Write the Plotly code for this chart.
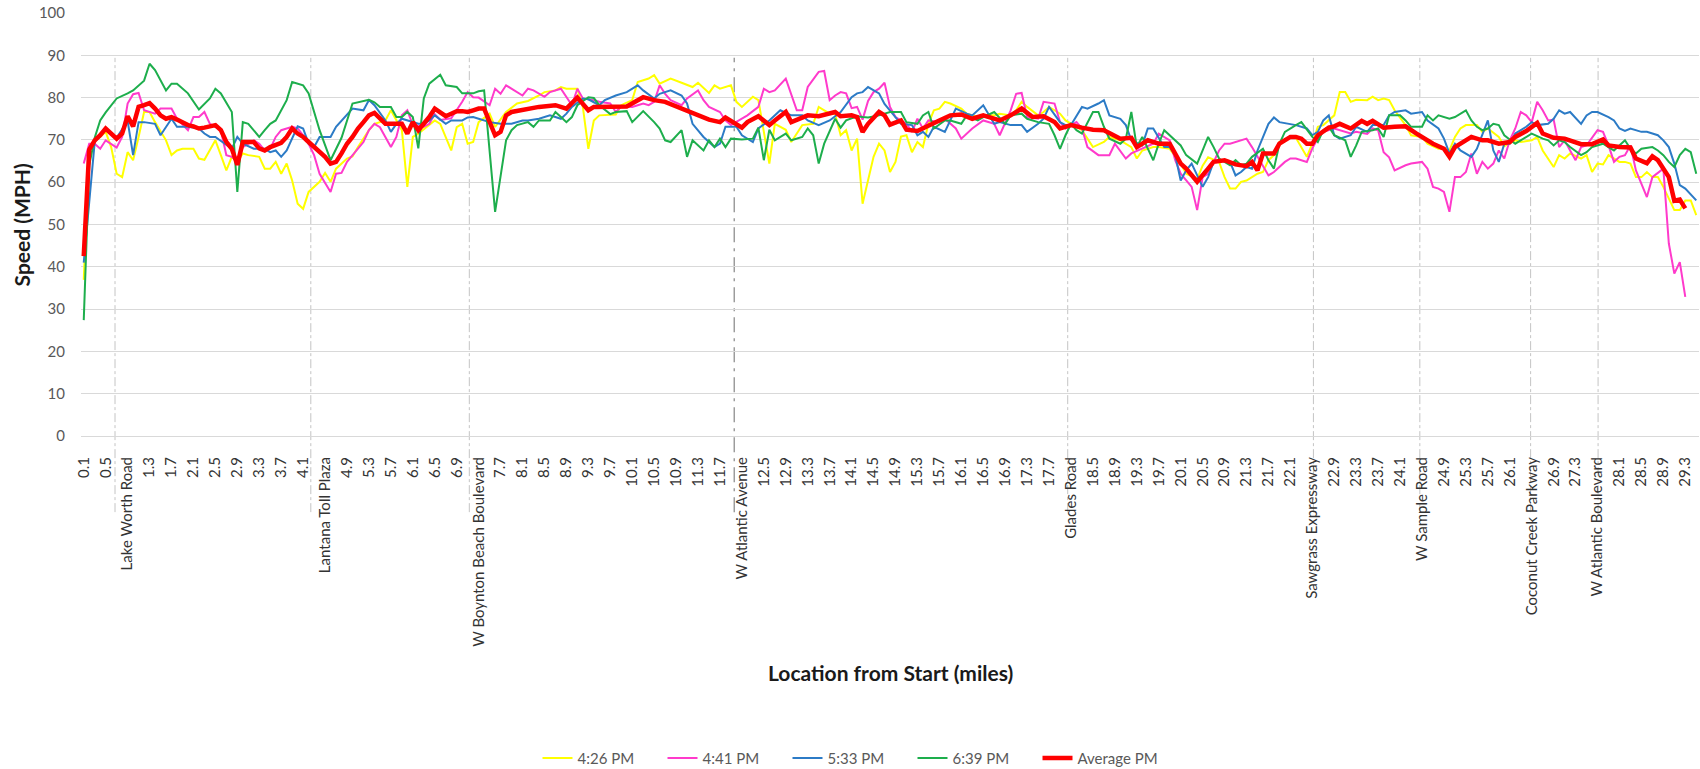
import plotly.graph_objects as go

FONT = "Lato"

# ---------------- data (mile, speed mph) ----------------
speed_426 = [
    (0.1, 36.9), (0.2, 68.3), (0.3, 70.0), (0.4, 70.7), (0.5, 71.9), (0.6, 68.3), (0.7, 62.0), (0.8, 61.2),
    (0.9, 67.1), (1.0, 65.2), (1.1, 70.7), (1.2, 76.6), (1.3, 76.6), (1.4, 74.2), (1.6, 69.9), (1.7, 66.4),
    (1.8, 67.5), (1.9, 67.9), (2.1, 67.9), (2.2, 65.6), (2.3, 65.3), (2.5, 69.9), (2.6, 66.4), (2.7, 62.8),
    (2.8, 66.0), (2.9, 64.8), (3.0, 66.8), (3.1, 66.4), (3.3, 66.0), (3.4, 63.2), (3.5, 63.2), (3.6, 64.8),
    (3.7, 62.0), (3.8, 64.4), (3.9, 60.4), (4.0, 54.9), (4.1, 53.7), (4.2, 57.7), (4.4, 60.1), (4.5, 62.2),
    (4.6, 60.1), (4.7, 63.2), (4.9, 65.6), (5.0, 66.1), (5.1, 68.3), (5.3, 72.3), (5.4, 73.8), (5.6, 74.6),
    (5.7, 77.0), (5.8, 74.6), (5.9, 72.3), (6.0, 58.9), (6.1, 70.7), (6.2, 71.5), (6.4, 73.5), (6.5, 74.6),
    (6.6, 73.8), (6.8, 67.5), (6.9, 73.0), (7.0, 73.8), (7.1, 69.1), (7.2, 69.5), (7.3, 74.2), (7.5, 76.2),
    (7.6, 73.1), (7.7, 74.8), (7.8, 76.6), (8.0, 78.6), (8.2, 79.2), (8.4, 80.5), (8.5, 81.3), (8.7, 81.7),
    (8.8, 82.5), (8.9, 82.1), (9.1, 82.1), (9.2, 77.8), (9.3, 67.9), (9.4, 74.6), (9.5, 75.8), (9.8, 76.0),
    (9.9, 78.2), (10.1, 79.4), (10.2, 83.7), (10.4, 84.5), (10.5, 85.3), (10.6, 83.3), (10.8, 84.5), (11.0, 83.5),
    (11.2, 82.5), (11.3, 83.5), (11.5, 81.1), (11.6, 82.9), (11.7, 82.1), (11.9, 82.9), (12.0, 79.0), (12.1, 77.8),
    (12.3, 80.2), (12.4, 79.4), (12.5, 71.9), (12.6, 64.4), (12.7, 73.8), (12.9, 72.4), (13.0, 69.5), (13.1, 71.5),
    (13.2, 73.5), (13.4, 73.8), (13.5, 77.8), (13.7, 76.2), (13.8, 76.1), (13.9, 71.1), (14.0, 72.3), (14.1, 67.5),
    (14.2, 70.3), (14.3, 54.9), (14.4, 60.4), (14.5, 66.0), (14.6, 69.1), (14.7, 67.5), (14.8, 62.4), (14.9, 64.8),
    (15.0, 70.8), (15.1, 71.1), (15.2, 67.1), (15.3, 69.5), (15.4, 68.3), (15.5, 73.8), (15.6, 77.0), (15.7, 77.4),
    (15.8, 79.0), (15.9, 78.6), (16.1, 77.4), (16.2, 76.2), (16.4, 75.4), (16.5, 75.8), (16.7, 75.8), (16.8, 76.2),
    (17.0, 75.8), (17.1, 77.0), (17.2, 79.0), (17.3, 77.8), (17.5, 75.8), (17.6, 76.6), (17.7, 77.8), (17.9, 76.2),
    (18.0, 74.6), (18.1, 73.8), (18.3, 72.3), (18.4, 70.3), (18.5, 68.3), (18.7, 69.5), (18.8, 70.7), (19.0, 69.9),
    (19.2, 68.3), (19.3, 65.6), (19.4, 67.5), (19.6, 68.3), (19.7, 68.3), (19.9, 67.9), (20.0, 66.0), (20.1, 64.4),
    (20.2, 62.0), (20.4, 60.8), (20.5, 63.9), (20.6, 65.9), (20.8, 64.8), (20.9, 61.2), (21.0, 58.5), (21.1, 58.5),
    (21.2, 60.1), (21.3, 60.4), (21.5, 62.0), (21.6, 62.4), (21.7, 65.2), (21.8, 66.4), (21.9, 69.5), (22.1, 70.7),
    (22.2, 70.5), (22.4, 66.0), (22.5, 69.1), (22.6, 73.1), (22.7, 73.5), (22.9, 75.8), (23.0, 81.3), (23.1, 81.3),
    (23.2, 79.0), (23.3, 79.5), (23.5, 79.4), (23.6, 80.2), (23.7, 79.4), (23.8, 79.8), (23.9, 79.4), (24.0, 77.0),
    (24.2, 73.5), (24.3, 71.1), (24.5, 70.7), (24.6, 69.1), (24.8, 67.9), (24.9, 67.9), (25.0, 67.5), (25.1, 70.7),
    (25.2, 72.7), (25.3, 73.5), (25.5, 73.5), (25.6, 71.9), (25.7, 72.7), (25.9, 70.7), (26.0, 68.5), (26.2, 69.9),
    (26.3, 69.5), (26.5, 69.9), (26.6, 70.7), (26.7, 67.5), (26.9, 63.6), (27.0, 66.4), (27.1, 65.6), (27.2, 66.8),
    (27.4, 65.6), (27.5, 66.4), (27.6, 62.4), (27.7, 64.4), (27.8, 64.2), (27.9, 66.4), (28.1, 64.8), (28.2, 64.8),
    (28.3, 64.4), (28.4, 61.2), (28.5, 61.2), (28.6, 62.4), (28.7, 61.2), (28.8, 61.2), (28.9, 58.9), (29.1, 53.4),
    (29.2, 53.4), (29.3, 55.7), (29.4, 55.7), (29.5, 52.2),
]

speed_441 = [
    (0.1, 64.4), (0.2, 69.1), (0.3, 69.1), (0.4, 67.9), (0.5, 69.9), (0.6, 69.1), (0.7, 68.2), (0.8, 70.7),
    (0.9, 78.6), (1.0, 80.8), (1.1, 81.1), (1.2, 77.0), (1.3, 76.6), (1.4, 76.2), (1.5, 77.4), (1.7, 77.4),
    (1.8, 75.0), (2.0, 72.3), (2.1, 75.4), (2.2, 75.4), (2.3, 76.6), (2.4, 73.8), (2.6, 72.3), (2.7, 66.4),
    (2.8, 66.0), (2.9, 64.8), (3.0, 68.3), (3.1, 69.1), (3.2, 69.9), (3.3, 69.1), (3.4, 67.5), (3.5, 67.9),
    (3.6, 70.7), (3.7, 72.3), (3.9, 73.1), (4.0, 72.7), (4.1, 71.1), (4.2, 69.1), (4.3, 66.4), (4.4, 62.0),
    (4.5, 59.7), (4.6, 57.7), (4.7, 62.0), (4.8, 62.2), (4.9, 64.8), (5.0, 66.4), (5.2, 69.5), (5.3, 72.3),
    (5.4, 73.8), (5.5, 73.0), (5.7, 68.3), (5.8, 70.7), (5.9, 75.8), (6.0, 77.0), (6.1, 73.5), (6.3, 73.1),
    (6.4, 73.8), (6.5, 76.1), (6.6, 74.7), (6.8, 75.1), (6.9, 77.0), (7.0, 79.0), (7.1, 81.3), (7.2, 80.1),
    (7.3, 80.0), (7.5, 78.2), (7.6, 82.1), (7.7, 80.9), (7.8, 82.9), (7.9, 82.1), (8.1, 80.5), (8.2, 82.1),
    (8.3, 81.7), (8.5, 80.2), (8.6, 81.3), (8.8, 82.1), (8.9, 80.2), (9.0, 78.2), (9.1, 82.1), (9.2, 79.8),
    (9.4, 79.4), (9.5, 79.0), (9.7, 78.6), (9.8, 76.6), (9.9, 77.9), (10.1, 77.8), (10.2, 78.2), (10.3, 78.6),
    (10.4, 78.2), (10.5, 79.0), (10.6, 82.9), (10.7, 80.9), (10.8, 79.4), (11.0, 78.2), (11.1, 79.8), (11.3, 81.7),
    (11.4, 79.4), (11.5, 77.8), (11.7, 76.6), (11.8, 74.6), (11.9, 73.5), (12.1, 75.0), (12.2, 75.8), (12.4, 77.8),
    (12.5, 82.1), (12.6, 81.3), (12.7, 81.7), (12.9, 84.5), (13.0, 80.5), (13.1, 77.0), (13.2, 77.0), (13.3, 82.5),
    (13.5, 86.1), (13.6, 86.3), (13.7, 79.4), (13.8, 80.5), (13.9, 81.3), (14.0, 81.0), (14.1, 77.5), (14.2, 77.8),
    (14.3, 74.8), (14.4, 79.2), (14.5, 81.3), (14.6, 82.1), (14.7, 83.5), (14.8, 77.8), (14.9, 75.4), (15.1, 73.8),
    (15.2, 71.9), (15.3, 75.0), (15.4, 72.7), (15.5, 74.6), (15.7, 74.2), (15.8, 75.0), (16.0, 72.7), (16.1, 70.3),
    (16.3, 72.7), (16.5, 74.6), (16.7, 73.8), (16.8, 71.1), (17.0, 77.0), (17.1, 80.9), (17.2, 81.1), (17.3, 75.4),
    (17.5, 75.0), (17.6, 79.0), (17.8, 78.6), (17.9, 74.2), (18.0, 72.7), (18.2, 74.2), (18.3, 72.7), (18.4, 68.3),
    (18.6, 66.4), (18.8, 66.4), (18.9, 69.1), (19.1, 65.6), (19.2, 66.8), (19.4, 68.0), (19.6, 69.1), (19.7, 71.5),
    (19.9, 69.9), (20.0, 65.2), (20.1, 62.0), (20.3, 58.9), (20.4, 53.4), (20.5, 61.2), (20.6, 62.0), (20.8, 67.5),
    (20.9, 69.1), (21.0, 69.1), (21.1, 69.5), (21.3, 70.3), (21.4, 68.3), (21.6, 63.6), (21.7, 61.6), (21.8, 62.4),
    (22.0, 64.8), (22.1, 65.6), (22.2, 65.6), (22.4, 64.8), (22.5, 68.0), (22.6, 70.3), (22.7, 71.9), (22.9, 72.7),
    (23.0, 72.3), (23.2, 71.5), (23.3, 71.9), (23.5, 71.4), (23.6, 72.7), (23.7, 72.3), (23.8, 67.1), (23.9, 65.9),
    (24.0, 62.8), (24.2, 64.0), (24.3, 64.4), (24.5, 64.8), (24.6, 63.2), (24.7, 58.9), (24.8, 58.5), (24.9, 57.7),
    (25.0, 53.0), (25.1, 61.2), (25.2, 61.2), (25.3, 62.4), (25.4, 66.8), (25.5, 62.0), (25.6, 64.8), (25.7, 63.2),
    (25.8, 64.4), (25.9, 67.5), (26.0, 65.6), (26.1, 69.9), (26.2, 72.7), (26.3, 76.6), (26.4, 75.8), (26.5, 74.2),
    (26.6, 79.0), (26.7, 77.0), (26.8, 74.6), (26.9, 74.8), (27.0, 68.3), (27.1, 69.9), (27.2, 67.5), (27.3, 65.2),
    (27.4, 68.3), (27.5, 68.7), (27.7, 72.3), (27.8, 71.9), (27.9, 68.7), (28.0, 64.8), (28.1, 66.0), (28.2, 66.4),
    (28.3, 68.7), (28.4, 62.8), (28.6, 56.5), (28.7, 61.2), (28.9, 63.2), (29.0, 45.5), (29.1, 38.4), (29.2, 41.1),
    (29.3, 32.9),
]

speed_533 = [
    (0.1, 41.0), (0.3, 69.5), (0.5, 72.5), (0.7, 70.5), (0.9, 74.5), (1.0, 66.4), (1.1, 74.2), (1.2, 74.2),
    (1.4, 73.8), (1.5, 71.1), (1.7, 75.0), (1.8, 73.1), (2.0, 73.1), (2.2, 72.7), (2.3, 71.5), (2.4, 70.7),
    (2.5, 70.7), (2.7, 68.7), (2.8, 67.9), (2.9, 70.7), (3.0, 69.1), (3.2, 67.9), (3.4, 67.9), (3.5, 67.1),
    (3.6, 67.5), (3.7, 66.0), (3.8, 67.5), (4.0, 73.2), (4.1, 72.7), (4.2, 69.1), (4.3, 68.3), (4.4, 70.7),
    (4.6, 70.7), (4.7, 73.1), (4.9, 75.8), (5.0, 77.4), (5.2, 77.0), (5.3, 79.4), (5.4, 78.2), (5.6, 74.6),
    (5.7, 71.9), (5.8, 73.8), (5.9, 75.0), (6.0, 74.6), (6.2, 73.8), (6.3, 73.8), (6.4, 74.6), (6.5, 75.8),
    (6.7, 73.8), (6.8, 74.6), (7.0, 74.6), (7.1, 75.3), (7.2, 75.4), (7.3, 75.0), (7.5, 74.2), (7.7, 73.8),
    (7.9, 73.8), (8.1, 74.6), (8.2, 74.6), (8.4, 75.0), (8.6, 75.8), (8.8, 75.0), (8.9, 76.2), (9.0, 77.8),
    (9.2, 79.8), (9.3, 79.6), (9.5, 78.2), (9.6, 79.4), (9.8, 80.5), (10.0, 81.3), (10.2, 82.9), (10.3, 81.7),
    (10.5, 79.8), (10.6, 80.9), (10.8, 81.7), (11.0, 80.5), (11.1, 78.6), (11.2, 73.8), (11.4, 70.7), (11.6, 68.3),
    (11.7, 69.1), (11.8, 73.1), (12.0, 73.1), (12.1, 71.1), (12.3, 69.5), (12.4, 72.7), (12.6, 74.6), (12.8, 77.0),
    (13.0, 75.8), (13.2, 75.8), (13.3, 74.6), (13.5, 73.5), (13.7, 74.6), (13.9, 76.6), (14.1, 80.1), (14.2, 81.0),
    (14.3, 81.3), (14.4, 82.5), (14.6, 81.0), (14.7, 78.5), (14.8, 77.0), (15.0, 73.8), (15.2, 73.5), (15.3, 71.1),
    (15.4, 71.9), (15.5, 70.7), (15.6, 73.1), (15.8, 71.9), (16.0, 77.4), (16.2, 76.2), (16.3, 75.8), (16.5, 78.2),
    (16.7, 73.8), (16.8, 74.2), (17.0, 73.5), (17.2, 73.5), (17.3, 71.9), (17.5, 73.8), (17.6, 75.0), (17.7, 77.8),
    (17.9, 74.2), (18.0, 73.5), (18.1, 73.5), (18.3, 77.8), (18.4, 77.4), (18.6, 78.6), (18.7, 79.4), (18.8, 75.8),
    (19.0, 75.0), (19.1, 73.5), (19.2, 69.9), (19.4, 68.7), (19.5, 72.7), (19.6, 72.7), (19.8, 68.3), (19.9, 68.3),
    (20.0, 66.4), (20.1, 60.4), (20.2, 62.8), (20.3, 64.4), (20.5, 58.9), (20.6, 61.2), (20.7, 64.8), (20.8, 65.2),
    (21.0, 64.8), (21.1, 61.6), (21.2, 62.4), (21.3, 63.6), (21.4, 63.2), (21.5, 67.5), (21.7, 73.8), (21.8, 75.3),
    (21.9, 74.2), (22.1, 73.8), (22.2, 73.5), (22.4, 72.7), (22.5, 71.1), (22.6, 71.9), (22.7, 74.6), (22.8, 75.8),
    (22.9, 71.1), (23.0, 70.3), (23.2, 71.1), (23.3, 73.1), (23.5, 71.9), (23.6, 73.5), (23.8, 73.5), (23.9, 75.8),
    (24.0, 76.6), (24.2, 77.0), (24.3, 76.2), (24.5, 76.6), (24.6, 74.6), (24.8, 72.7), (24.9, 70.3), (25.0, 66.8),
    (25.1, 69.1), (25.2, 67.5), (25.4, 66.0), (25.5, 67.9), (25.6, 71.1), (25.7, 74.6), (25.8, 67.5), (25.9, 64.8),
    (26.0, 69.1), (26.1, 69.1), (26.2, 71.5), (26.4, 73.1), (26.5, 74.2), (26.6, 73.5), (26.8, 73.8), (26.9, 75.0),
    (27.0, 77.0), (27.1, 76.2), (27.2, 76.6), (27.4, 73.8), (27.5, 75.8), (27.6, 76.6), (27.7, 76.6), (27.9, 75.4),
    (28.0, 74.6), (28.1, 72.7), (28.2, 72.1), (28.3, 72.7), (28.5, 71.9), (28.6, 71.9), (28.8, 71.1), (28.9, 69.9),
    (29.0, 68.3), (29.1, 64.4), (29.2, 59.3), (29.3, 58.5), (29.5, 55.7),
]

speed_639 = [
    (0.1, 27.4), (0.2, 64.0), (0.3, 70.5), (0.4, 74.6), (0.5, 76.5), (0.7, 79.8), (0.9, 81.0), (1.0, 81.7),
    (1.2, 84.0), (1.3, 88.0), (1.4, 86.5), (1.6, 81.7), (1.7, 83.3), (1.8, 83.3), (2.0, 81.0), (2.2, 77.2),
    (2.4, 79.8), (2.5, 82.1), (2.6, 81.0), (2.8, 76.6), (2.9, 57.7), (3.0, 74.2), (3.1, 73.8), (3.3, 70.7),
    (3.4, 72.3), (3.5, 73.8), (3.6, 74.6), (3.8, 79.4), (3.9, 83.7), (4.1, 82.9), (4.2, 81.0), (4.4, 72.3),
    (4.6, 65.2), (4.8, 70.5), (5.0, 78.6), (5.2, 79.1), (5.3, 79.5), (5.4, 78.9), (5.5, 77.8), (5.7, 77.8),
    (5.8, 75.4), (5.9, 75.4), (6.0, 76.6), (6.1, 75.4), (6.2, 68.0), (6.3, 79.8), (6.4, 83.3), (6.6, 85.4),
    (6.7, 82.9), (6.9, 82.5), (7.0, 81.0), (7.2, 81.0), (7.3, 81.5), (7.4, 81.7), (7.6, 53.0), (7.8, 69.9),
    (7.9, 72.3), (8.0, 73.5), (8.2, 74.2), (8.3, 73.1), (8.4, 74.6), (8.6, 74.6), (8.7, 76.6), (8.8, 75.4),
    (8.9, 74.2), (9.0, 75.4), (9.1, 78.2), (9.3, 80.1), (9.4, 79.9), (9.5, 78.2), (9.7, 76.1), (9.8, 76.6),
    (10.0, 76.8), (10.1, 74.2), (10.2, 75.4), (10.3, 76.8), (10.5, 74.2), (10.6, 72.7), (10.7, 69.9), (10.8, 69.5),
    (11.0, 72.3), (11.1, 66.0), (11.2, 69.9), (11.4, 67.5), (11.5, 69.9), (11.6, 68.3), (11.7, 70.3), (11.8, 68.3),
    (11.9, 70.3), (12.1, 70.1), (12.3, 70.3), (12.4, 72.9), (12.5, 65.2), (12.6, 72.4), (12.7, 69.9), (12.9, 71.5),
    (13.0, 69.9), (13.2, 70.7), (13.3, 72.7), (13.4, 71.1), (13.5, 64.4), (13.6, 69.1), (13.8, 75.0), (13.9, 72.9),
    (14.0, 74.6), (14.2, 75.6), (14.3, 75.4), (14.4, 75.3), (14.6, 75.8), (14.7, 76.2), (14.8, 76.6), (15.0, 76.6),
    (15.1, 74.2), (15.3, 73.8), (15.4, 75.8), (15.5, 76.6), (15.6, 72.7), (15.8, 74.6), (15.9, 74.6), (16.1, 73.8),
    (16.2, 75.8), (16.4, 74.6), (16.5, 75.4), (16.7, 76.6), (16.9, 73.8), (17.0, 75.8), (17.2, 76.2), (17.3, 75.0),
    (17.5, 74.2), (17.7, 73.8), (17.8, 71.1), (17.9, 67.9), (18.0, 71.1), (18.1, 73.8), (18.2, 72.3), (18.3, 71.5),
    (18.5, 76.6), (18.6, 76.6), (18.7, 73.1), (18.8, 70.3), (19.0, 69.1), (19.1, 70.3), (19.2, 76.6), (19.3, 68.3),
    (19.4, 70.7), (19.6, 65.2), (19.7, 69.1), (19.8, 72.3), (19.9, 71.1), (20.1, 68.7), (20.2, 66.4), (20.4, 64.4),
    (20.5, 67.5), (20.6, 70.7), (20.7, 68.3), (20.8, 65.6), (21.0, 64.0), (21.1, 65.2), (21.2, 64.0), (21.3, 64.4),
    (21.4, 66.0), (21.6, 67.9), (21.7, 65.2), (21.8, 63.2), (21.9, 69.1), (22.0, 71.9), (22.2, 73.5), (22.3, 74.2),
    (22.5, 70.7), (22.6, 69.5), (22.7, 72.3), (22.8, 73.1), (22.9, 71.1), (23.1, 69.9), (23.2, 66.0), (23.3, 68.7),
    (23.4, 71.9), (23.6, 72.3), (23.7, 72.7), (23.8, 70.7), (23.9, 75.8), (24.1, 75.8), (24.2, 74.6), (24.3, 73.1),
    (24.5, 73.1), (24.6, 75.8), (24.7, 74.6), (24.8, 75.8), (25.0, 75.0), (25.1, 75.4), (25.3, 77.0), (25.4, 74.6),
    (25.5, 73.1), (25.6, 72.3), (25.7, 72.7), (25.8, 73.8), (25.9, 73.5), (26.0, 71.1), (26.2, 69.1), (26.3, 69.9),
    (26.4, 70.7), (26.5, 71.5), (26.7, 70.3), (26.8, 69.9), (26.9, 68.7), (27.0, 69.9), (27.1, 69.5), (27.2, 68.3),
    (27.4, 66.4), (27.5, 67.1), (27.6, 68.3), (27.8, 69.1), (27.9, 68.3), (28.0, 67.5), (28.2, 69.9), (28.3, 67.9),
    (28.4, 66.8), (28.5, 67.9), (28.7, 68.3), (28.8, 67.5), (28.9, 66.4), (29.0, 64.8), (29.1, 63.6), (29.2, 66.4),
    (29.3, 67.9), (29.4, 67.1), (29.5, 62.0),
]

speed_avg = [
    (0.1, 42.5), (0.2, 67.7), (0.3, 69.9), (0.4, 71.1), (0.5, 72.7), (0.6, 71.5), (0.7, 70.3), (0.8, 71.5),
    (0.9, 75.6), (1.0, 73.2), (1.1, 77.8), (1.2, 78.2), (1.3, 78.7), (1.4, 77.4), (1.5, 75.8), (1.6, 75.0),
    (1.7, 75.4), (1.8, 74.8), (1.9, 74.2), (2.0, 73.5), (2.1, 73.2), (2.2, 72.7), (2.3, 72.9), (2.4, 73.2),
    (2.5, 73.5), (2.6, 72.3), (2.7, 69.5), (2.8, 67.9), (2.9, 64.1), (3.0, 69.5), (3.1, 69.5), (3.2, 69.5),
    (3.3, 68.0), (3.4, 67.5), (3.5, 68.3), (3.6, 68.7), (3.7, 69.3), (3.8, 70.7), (3.9, 72.7), (4.0, 71.5),
    (4.1, 70.7), (4.2, 69.5), (4.3, 68.3), (4.4, 67.1), (4.5, 66.0), (4.6, 64.4), (4.7, 64.8), (4.8, 66.8),
    (4.9, 69.1), (5.0, 70.7), (5.1, 72.7), (5.2, 74.2), (5.3, 75.8), (5.4, 76.4), (5.5, 75.0), (5.6, 73.8),
    (5.7, 73.8), (5.8, 73.8), (5.9, 73.8), (6.0, 71.5), (6.1, 74.2), (6.2, 72.3), (6.3, 73.8), (6.4, 75.4),
    (6.5, 77.4), (6.6, 76.6), (6.7, 75.6), (6.8, 76.2), (6.9, 76.8), (7.0, 76.8), (7.1, 76.6), (7.2, 77.0),
    (7.3, 77.4), (7.4, 77.4), (7.6, 71.1), (7.7, 71.9), (7.8, 75.8), (7.9, 76.6), (8.2, 77.4), (8.4, 77.8),
    (8.7, 78.2), (8.9, 77.4), (9.1, 80.0), (9.3, 77.0), (9.4, 77.8), (9.6, 77.8), (10.0, 77.9), (10.3, 80.1),
    (10.5, 79.4), (10.7, 79.0), (11.0, 77.4), (11.2, 76.2), (11.5, 74.8), (11.7, 74.2), (11.8, 75.3), (12.1, 72.9),
    (12.2, 74.2), (12.4, 75.6), (12.6, 73.5), (12.7, 74.6), (12.9, 76.6), (13.0, 74.2), (13.3, 75.8), (13.5, 75.6),
    (13.8, 76.6), (13.9, 75.6), (14.1, 75.8), (14.2, 75.4), (14.3, 71.9), (14.4, 73.8), (14.6, 76.6), (14.7, 75.8),
    (14.8, 73.6), (15.0, 74.6), (15.1, 72.4), (15.3, 72.1), (15.5, 73.5), (15.7, 74.6), (15.9, 75.8), (16.1, 76.0),
    (16.3, 75.0), (16.5, 75.8), (16.8, 74.6), (17.0, 75.8), (17.2, 77.4), (17.4, 75.4), (17.6, 75.6), (17.8, 74.2),
    (17.9, 72.7), (18.1, 73.5), (18.3, 72.9), (18.5, 72.4), (18.7, 72.3), (19.0, 70.3), (19.2, 70.5), (19.3, 68.3),
    (19.5, 69.9), (19.7, 69.1), (19.9, 69.1), (20.1, 64.4), (20.2, 63.2), (20.4, 60.1), (20.6, 63.2), (20.7, 64.8),
    (20.9, 65.2), (21.1, 64.2), (21.3, 63.8), (21.4, 64.8), (21.5, 62.8), (21.6, 66.8), (21.8, 66.8), (21.9, 69.1),
    (22.1, 70.7), (22.2, 70.7), (22.3, 70.3), (22.4, 69.1), (22.5, 69.1), (22.6, 71.1), (22.8, 72.9), (22.9, 73.2),
    (23.0, 73.8), (23.2, 72.7), (23.4, 74.5), (23.5, 73.8), (23.6, 74.5), (23.8, 72.9), (24.0, 73.1), (24.2, 73.2),
    (24.4, 71.5), (24.5, 70.7), (24.7, 69.1), (24.9, 67.9), (25.0, 66.0), (25.1, 68.3), (25.3, 70.1), (25.4, 70.7),
    (25.6, 69.9), (25.7, 69.9), (25.9, 69.1), (26.1, 69.5), (26.2, 70.7), (26.4, 72.1), (26.6, 74.0), (26.7, 71.5),
    (26.9, 70.5), (27.1, 70.3), (27.4, 69.0), (27.6, 69.0), (27.8, 70.1), (27.9, 68.7), (28.1, 68.3), (28.3, 68.2),
    (28.4, 65.6), (28.6, 64.5), (28.7, 66.1), (28.8, 65.2), (29.0, 61.2), (29.1, 55.6), (29.2, 55.9), (29.3, 53.8),
]

series_names = ["4:26 PM", "4:41 PM", "5:33 PM", "6:39 PM", "Average PM"]
series_data = [speed_426, speed_441, speed_533, speed_639, speed_avg]

# category tick labels (every 4th 0.1-mile segment, landmarks replace the mile value)
tick_labels = [
    "0.1", "0.5", "Lake Worth Road", "1.3", "1.7", "2.1", "2.5", "2.9", "3.3", "3.7", "4.1",
    "Lantana Toll Plaza", "4.9", "5.3", "5.7", "6.1", "6.5", "6.9", "W Boynton Beach Boulevard",
    "7.7", "8.1", "8.5", "8.9", "9.3", "9.7", "10.1", "10.5", "10.9", "11.3", "11.7",
    "W Atlantic Avenue", "12.5", "12.9", "13.3", "13.7", "14.1", "14.5", "14.9", "15.3", "15.7",
    "16.1", "16.5", "16.9", "17.3", "17.7", "Glades Road", "18.5", "18.9", "19.3", "19.7", "20.1",
    "20.5", "20.9", "21.3", "21.7", "22.1", "Sawgrass Expressway", "22.9", "23.3", "23.7", "24.1",
    "W Sample Road", "24.9", "25.3", "25.7", "26.1", "Coconut Creek Parkway", "26.9", "27.3",
    "W Atlantic Boulevard", "28.1", "28.5", "28.9", "29.3",
]
tick_miles = [round(0.1 + 0.4 * k, 1) for k in range(len(tick_labels))]

# landmark interchange locations (miles) marked with vertical dashed lines
landmark_names = ["Lake Worth Road", "Lantana Toll Plaza", "W Boynton Beach Boulevard",
                  "W Atlantic Avenue", "Glades Road", "Sawgrass Expressway", "W Sample Road",
                  "Coconut Creek Parkway", "W Atlantic Boulevard"]
landmark_miles = [0.67, 4.24, 7.13, 11.96, 18.04, 22.52, 24.46, 26.48, 27.71]

# ---------------- styling ----------------
colors = ["#FFFF00", "#FF3ACB", "#2C7BC6", "#1DAE4C", "#FF0000"]
widths = [2, 2, 2, 2, 4.5]

fig = go.Figure()
for name, data, col, w in zip(series_names, series_data, colors, widths):
    xs = [p[0] for p in data]
    ys = [p[1] for p in data]
    fig.add_trace(go.Scatter(x=xs, y=ys, mode="lines", name=name,
                             line=dict(color=col, width=w)))

shapes = []
for name, m in zip(landmark_names, landmark_miles):
    strong = (name == "W Atlantic Avenue")
    shapes.append(dict(
        type="line", xref="x", yref="paper", x0=m, x1=m, y0=-0.18, y1=0.894,
        line=dict(color="#8f8f8f" if strong else "#c4c4c4", width=1.3 if strong else 1,
                  dash="longdashdot" if strong else "dashdot"),
        layer="below",
    ))

fig.update_layout(
    width=1700, height=769,
    margin=dict(l=81, r=1, t=13, b=333),
    plot_bgcolor="white", paper_bgcolor="white",
    font=dict(family=FONT, color="#404040"),
    shapes=shapes,
    showlegend=True,
    legend=dict(
        orientation="h", xref="container", yref="container",
        x=0.5, xanchor="center", y=0.014, yanchor="middle",
        entrywidth=80, entrywidthmode="pixels",
        font=dict(family=FONT, size=15, color="#595959"),
        bgcolor="rgba(0,0,0,0)",
    ),
    annotations=[
        dict(text="<b>Speed (MPH)</b>", xref="paper", yref="paper", x=-0.0365, y=0.5,
             xanchor="center", yanchor="middle", textangle=-90, showarrow=False,
             font=dict(family=FONT, size=21, color="#1a1a1a")),
        dict(text="<b>Location from Start (miles)</b>", xref="paper", yref="paper", x=0.5, y=-0.558,
             xanchor="center", yanchor="middle", showarrow=False,
             font=dict(family=FONT, size=21, color="#1a1a1a")),
    ],
)

fig.update_xaxes(
    type="linear", range=[0.05, 29.55],
    tickmode="array", tickvals=tick_miles, ticktext=tick_labels,
    tickangle=-90, tickfont=dict(family=FONT, size=15, color="#333333"),
    ticks="outside", ticklen=14, tickcolor="rgba(0,0,0,0)",
    showgrid=False, zeroline=False, showline=True, linecolor="#d9d9d9", linewidth=1,
)
fig.update_yaxes(
    range=[0, 100], dtick=10, tick0=0,
    tickfont=dict(family=FONT, size=15, color="#595959"),
    ticks="outside", ticklen=12, tickcolor="rgba(0,0,0,0)",
    showgrid=True, gridcolor="#d9d9d9", gridwidth=1, zeroline=False, showline=False,
)

fig.write_html("out.html", config={"displayModeBar": False},
               post_script="document.body.style.margin='0';")
